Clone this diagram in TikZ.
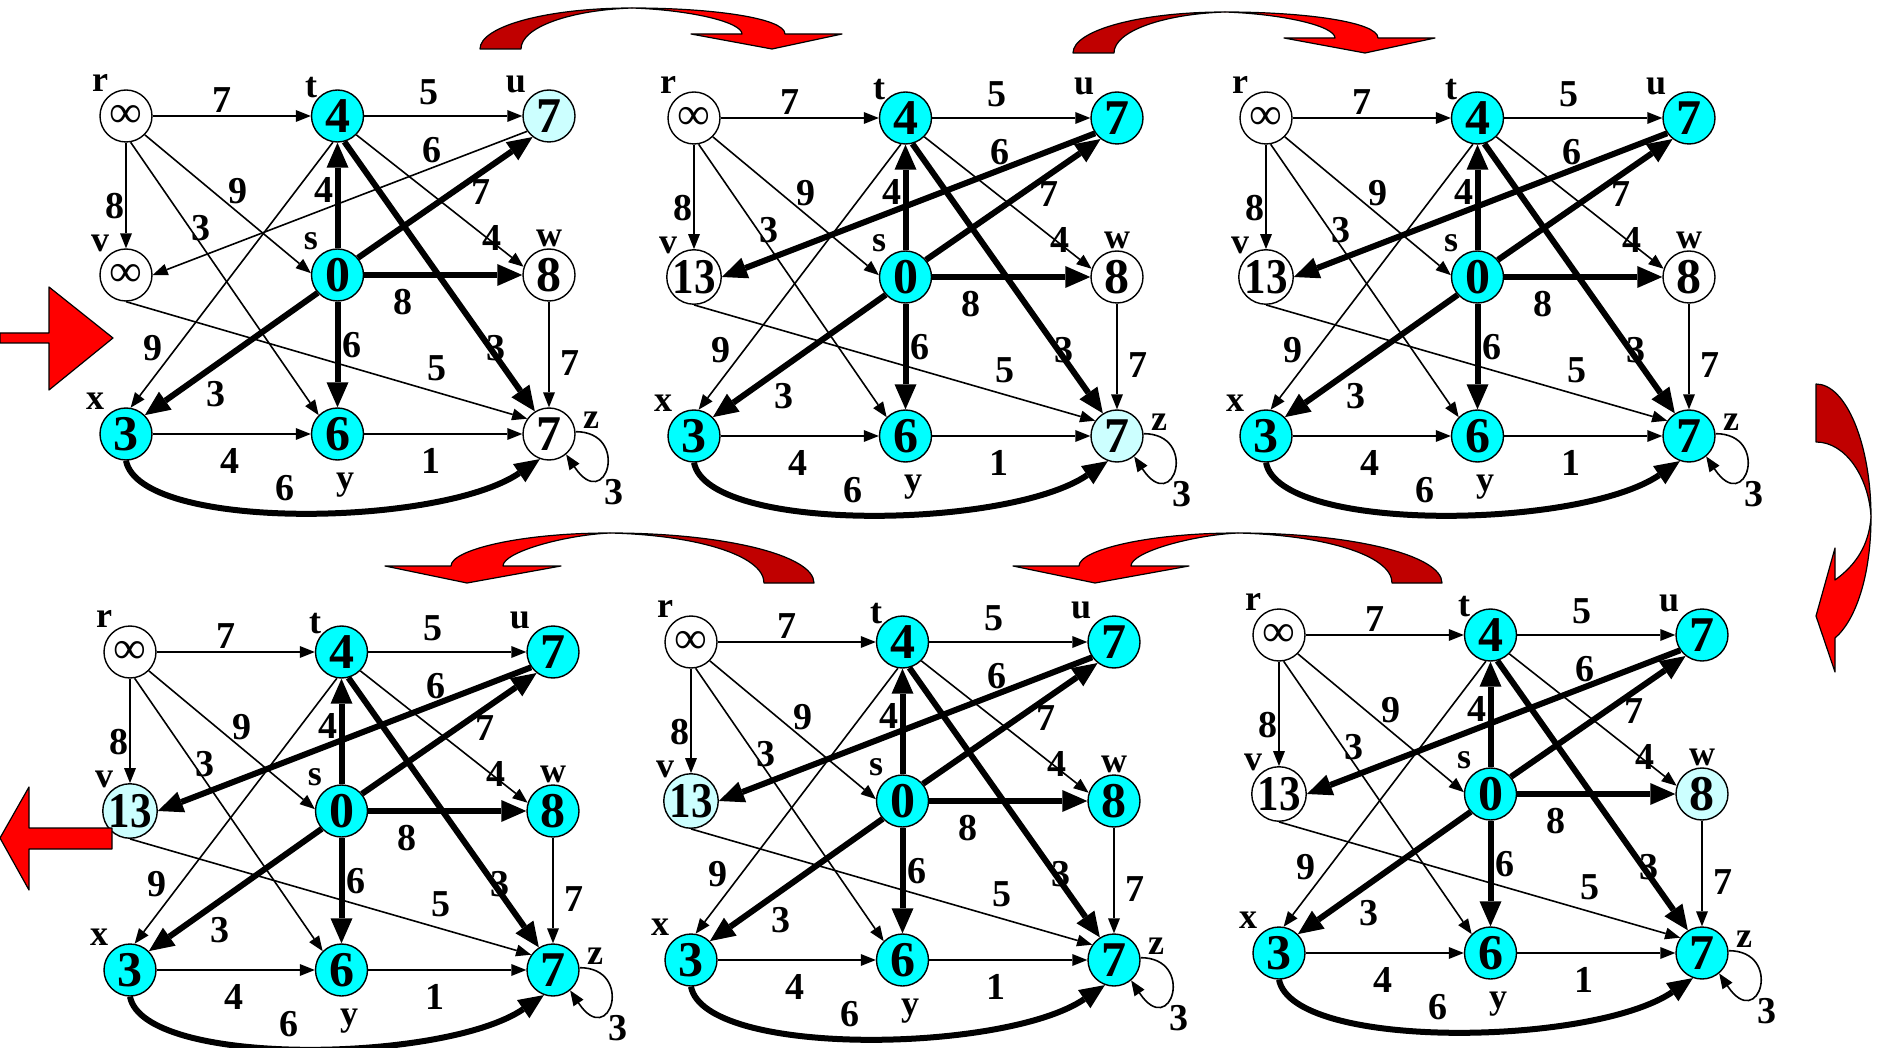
\documentclass[tikz,border=0pt]{standalone}
\usepackage{graphicx}
\usepackage{fontspec}
\setmainfont{Liberation Serif}
\usetikzlibrary{arrows.meta}
\definecolor{fullc}{HTML}{00FFFF}
\definecolor{lightc}{HTML}{CCFFFF}
\definecolor{darkr}{HTML}{C00000}
\definecolor{brightr}{HTML}{FF0000}
\tikzset{
  vert/.style={circle, draw=black, line width=1.4pt, minimum size=52pt, inner sep=0pt,
    font=\fontsize{50}{50}\selectfont\bfseries},
  vlab/.style={inner sep=0pt, font=\fontsize{36}{36}\selectfont\bfseries},
  elab/.style={inner sep=0pt, font=\fontsize{38}{38}\selectfont\bfseries},
  lightedge/.style={line width=1.6pt, -{Triangle[length=15pt,width=12pt,line width=0pt]}},
  heavyedge/.style={line width=6pt, -{Triangle[length=25pt,width=22pt,line width=0pt]}},
  bigarrow/.style={draw=black, line width=1.2pt, line join=round},
}
\newcommand{\infsym}{{\fontsize{46}{46}\selectfont\mdseries\raisebox{-3pt}{∞}}}
\newcommand{\thirteen}{\scalebox{0.86}[1]{13}}
% #1 prefix, #2 #3 origin, #4 u fill, #5 v fill, #6 v value, #7 w fill, #8 z fill, #9 u->v style
\newcommand{\gpanel}[9]{%
\begin{scope}[shift={(#2,#3)}]
  \node[vert, fill=white] (#1r) at (0,0) {\infsym};
  \node[vert, fill=fullc] (#1t) at (211.5,0) {4};
  \node[vert, fill=#4] (#1u) at (423,0) {7};
  \node[vert, fill=#5] (#1v) at (0,159) {#6};
  \node[vert, fill=fullc] (#1s) at (211.5,159) {0};
  \node[vert, fill=#7] (#1w) at (423,159) {8};
  \node[vert, fill=fullc] (#1x) at (0,318) {3};
  \node[vert, fill=fullc] (#1y) at (211.5,318) {6};
  \node[vert, fill=#8] (#1z) at (423,318) {7};
  % vertex letters
  \node[vlab] (#1Lr) at (-26,-33) {r};
  \node[vlab] (#1Lt) at (185,-28) {t};
  \node[vlab] (#1Lu) at (390,-32) {u};
  \node[vlab] (#1Lv) at (-26,127) {v};
  \node[vlab] (#1Ls) at (185,125) {s};
  \node[vlab] (#1Lw) at (423,122) {w};
  \node[vlab] (#1Lx) at (-31,285) {x};
  \node[vlab] (#1Ly) at (219,369) {y};
  \node[vlab] (#1Lz) at (465,304) {z};
  % thin edges
  \draw[lightedge] (#1r) -- (#1t);
  \draw[lightedge] (#1t) -- (#1u);
  \draw[lightedge] (#1r) -- (#1v);
  \draw[lightedge] (#1r.-45) -- (#1s.176);
  \draw[lightedge] (#1r.-80) -- (#1y.135);
  \draw[lightedge] (#1t.-100) -- (#1x.80);
  \draw[lightedge] (#1t.-45) -- (#1w.162);
  \draw[lightedge] (#1v.south) -- (#1z.145);
  \draw[lightedge] (#1w) -- (#1z);
  \draw[lightedge] (#1x) -- (#1y);
  \draw[lightedge] (#1y) -- (#1z);
  \draw[lightedge] (#1z.5) .. controls +(55,0) and +(40,60) .. (#1z.-50);
  \draw[#9] (#1u.-145) -- (#1v.east);
  % thick edges
  \draw[heavyedge] (#1s) -- (#1t);
  \draw[heavyedge] (#1s.40) -- (#1u.-128);
  \draw[heavyedge] (#1s) -- (#1w);
  \draw[heavyedge] (#1s.-138) -- (#1x.45);
  \draw[heavyedge] (#1s) -- (#1y);
  \draw[heavyedge] (#1t.-75) -- (#1z.122);
  \draw[heavyedge] (#1x.south) .. controls +(14,71) and +(-100,68) .. (#1z.-110);
  % weights
  \node[elab] (#1e1) at (96,-16) {7};
  \node[elab] (#1e2) at (303,-24) {5};
  \node[elab] (#1e3) at (306,34) {6};
  \node[elab] (#1e4) at (355,76) {7};
  \node[elab] (#1e5) at (112,75) {9};
  \node[elab] (#1e6) at (198,74) {4};
  \node[elab] (#1e7) at (-11,90) {8};
  \node[elab] (#1e8) at (75,112) {3};
  \node[elab] (#1e9) at (366,122) {4};
  \node[elab] (#1e10) at (277,186) {8};
  \node[elab] (#1e11) at (27,232) {9};
  \node[elab] (#1e12) at (226,229) {6};
  \node[elab] (#1e13) at (370,232) {3};
  \node[elab] (#1e14) at (311,252) {5};
  \node[elab] (#1e15) at (444,247) {7};
  \node[elab] (#1e16) at (90,278) {3};
  \node[elab] (#1e17) at (104,345) {4};
  \node[elab] (#1e18) at (305,345) {1};
  \node[elab] (#1e19) at (159,372) {6};
  \node[elab] (#1e20) at (488,376) {3};
\end{scope}}
\newcommand{\overarrow}{%
  \filldraw[bigarrow, fill=darkr] (480,49) .. controls (480,26) and (548,8) .. (632,8)
     .. controls (571,10) and (521,27) .. (521,49) -- cycle;
  \filldraw[bigarrow, fill=brightr] (632,8) .. controls (712,8) and (785,18) .. (785,34)
     -- (842,34) -- (772,49) -- (691,34) -- (742,34)
     .. controls (742,22) and (690,10) .. (632,8) -- cycle;}
\newcommand{\backarrow}{%
  \filldraw[bigarrow, fill=darkr] (814,583) .. controls (814,555) and (723,533) .. (610,533)
     .. controls (695,535) and (764,555) .. (764,583) -- cycle;
  \filldraw[bigarrow, fill=brightr] (610,533) .. controls (520,533) and (451,550) .. (451,566)
     -- (385,566) -- (467,583) -- (561,566) -- (503,566)
     .. controls (503,552) and (565,535) .. (610,533) -- cycle;}
\begin{document}
\begin{tikzpicture}[x=1pt,y=-1pt]
\fill[white] (0,0) rectangle (1880,1048);
\useasboundingbox (0,0) rectangle (1880,1048);
\gpanel{a}{126}{116}{lightc}{white}{\infsym}{white}{white}{lightedge}
\gpanel{b}{694}{118}{fullc}{white}{\thirteen}{white}{lightc}{heavyedge}
\gpanel{c}{1266}{118}{fullc}{white}{\thirteen}{white}{fullc}{heavyedge}
\gpanel{d}{130}{652}{fullc}{lightc}{\thirteen}{fullc}{fullc}{heavyedge}
\gpanel{e}{691}{642}{fullc}{lightc}{\thirteen}{fullc}{fullc}{heavyedge}
\gpanel{f}{1279}{635}{fullc}{white}{\thirteen}{lightc}{fullc}{heavyedge}
% big red arrows
\overarrow
\begin{scope}[shift={(593,4)}]\overarrow\end{scope}
\backarrow
\begin{scope}[shift={(628,0)}]\backarrow\end{scope}
\filldraw[bigarrow, fill=darkr] (1816,384) .. controls (1846,384) and (1871,444) .. (1871,517)
   .. controls (1869,478) and (1846,442) .. (1816,442) -- cycle;
\filldraw[bigarrow, fill=brightr] (1871,517) .. controls (1871,575) and (1856,620) .. (1835,638)
   -- (1835,672) -- (1816,616) -- (1835,548) -- (1835,580)
   .. controls (1856,565) and (1869,545) .. (1871,517) -- cycle;
\filldraw[bigarrow, fill=brightr] (0,333) -- (49,333) -- (49,287) -- (113,338) -- (49,390)
   -- (49,343) -- (0,343) -- cycle;
\filldraw[bigarrow, fill=brightr] (112,828) -- (29,828) -- (29,787) -- (0,838) -- (29,890)
   -- (29,849) -- (112,849) -- cycle;
\end{tikzpicture}
\end{document}
